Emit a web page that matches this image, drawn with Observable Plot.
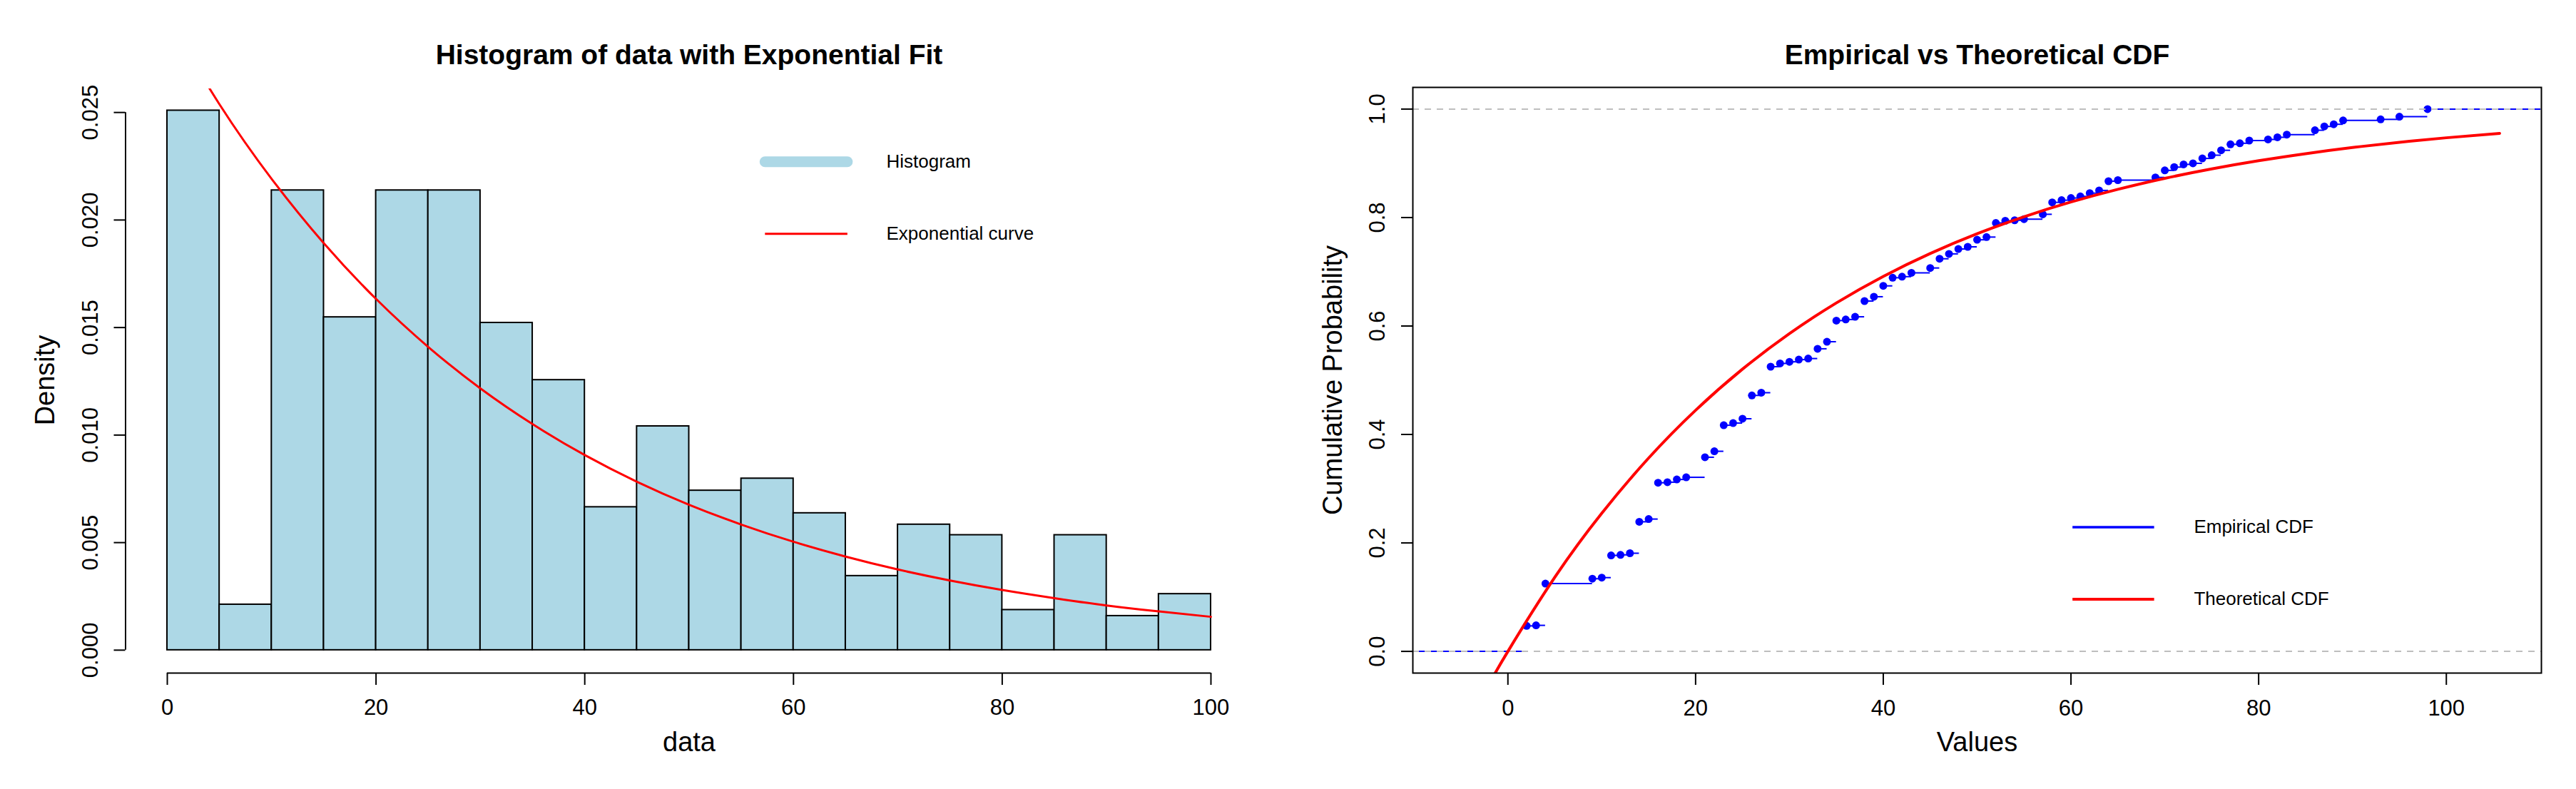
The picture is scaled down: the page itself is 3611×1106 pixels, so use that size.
<!DOCTYPE html>
<html><head><meta charset="utf-8">
<script src="https://cdn.jsdelivr.net/npm/d3@7"></script>
<script src="https://cdn.jsdelivr.net/npm/@observablehq/plot@0.6"></script>
<style>
body{margin:0;background:#fff;}
#row{display:flex;width:3611px;height:1106px;}
#row svg{display:block;flex:none;}
</style>
</head><body><div id="row"></div>
<script>
// ---------- Data: histogram ----------
const binEdges = [0,5,10,15,20,25,30,35,40,45,50,55,60,65,70,75,80,85,90,95,100];
const binDensity = [0.02509,0.00212,0.02138,0.01548,0.02138,0.02138,0.01522,0.01256,0.00665,0.01041,
                    0.00742,0.00798,0.00637,0.00345,0.00584,0.00535,0.00187,0.00535,0.00159,0.00261];
// exponential density curve
const pdfX = [0,5,10,15,20,25,30,35,40,45,50,55,60,65,70,75,80,85,90,95,100];
const pdfY = [0.02940,0.02538,0.02191,0.01892,0.01633,0.01410,0.01217,0.01051,0.00907,0.00783,
              0.00676,0.00584,0.00504,0.00435,0.00375,0.00324,0.00280,0.00242,0.00208,0.00180,0.00155];
const histXTicks = [0,20,40,60,80,100];
const histYTicks = [0,0.005,0.010,0.015,0.020,0.025];

// ---------- Data: ECDF ----------
const ecdfX = [2,3,4,9,10,11,12,13,14,15,16,17,18,19,21,22,23,24,25,26,27,28,29,30,31,32,33,34,35,36,37,
               38,39,40,41,42,43,45,46,47,48,49,50,51,52,53,54,55,57,58,59,60,61,62,63,64,65,69,70,71,72,
               73,74,75,76,77,78,79,81,82,83,86,87,88,89,93,95,98];
const ecdfY = [0.047,0.048,0.125,0.134,0.136,0.177,0.178,0.181,0.239,0.244,0.311,0.312,0.317,0.321,0.358,0.369,
               0.417,0.421,0.429,0.472,0.477,0.525,0.531,0.534,0.538,0.540,0.558,0.571,0.610,0.612,0.617,
               0.646,0.654,0.674,0.689,0.691,0.698,0.707,0.724,0.733,0.742,0.746,0.759,0.764,0.790,0.794,
               0.795,0.797,0.806,0.828,0.832,0.836,0.839,0.845,0.850,0.867,0.869,0.874,0.887,0.893,0.898,
               0.900,0.909,0.915,0.924,0.935,0.937,0.942,0.944,0.948,0.953,0.961,0.968,0.972,0.979,0.981,
               0.986,1.000];
// theoretical CDF curve
const cdfX = [-5.68,-2.5,0,5,10,15,20,25,30,35,40,45,50,55,60,65,70,75,80,85,90,95,100,105.68];
const cdfY = [-0.182,-0.076,0,0.1367,0.2547,0.3566,0.4446,0.5205,0.5860,0.6426,0.6915,0.7337,0.7701,
              0.8015,0.8286,0.8520,0.8723,0.8897,0.9048,0.9178,0.9291,0.9388,0.9471,0.9553];
const cdfXTicks = [0,20,40,60,80,100];
const cdfYTicks = [0,0.2,0.4,0.6,0.8,1.0];

// ---------- derived tables ----------
const bins = binDensity.map((d,i) => ({x1: binEdges[i], x2: binEdges[i+1], density: d}));
const pdf = pdfX.map((x,i) => ({x, y: pdfY[i]}));
const cdf = cdfX.map((x,i) => ({x, y: cdfY[i]}));
const ecdf = ecdfX.map((x,i) => ({x, y: ecdfY[i]}));

const FONT = "'Liberation Sans', Arial, Helvetica, sans-serif";
const style = {fontFamily: FONT, fontSize: "31px", background: "white", color: "black"};

// ---------- left: histogram ----------
const hxDom = [-4, 104];
const hyDom = [-0.001, 0.0261];
const left = Plot.plot({
  width: 1805, height: 1106,
  marginLeft: 175.5, marginRight: 49.5, marginTop: 124, marginBottom: 165,
  x: {domain: hxDom, axis: null},
  y: {domain: hyDom, axis: null},
  style,
  marks: [
    Plot.rect(bins, {x1: "x1", x2: "x2", y1: 0, y2: "density", fill: "#ADD8E6", stroke: "#000", strokeWidth: 2}),
    Plot.line(pdf, {x: "x", y: "y", stroke: "red", strokeWidth: 3, curve: "natural", clip: true}),
    // y axis
    Plot.ruleX([hxDom[0]], {y1: histYTicks[0], y2: histYTicks[histYTicks.length-1], strokeWidth: 2}),
    Plot.axisY({ticks: histYTicks, tickSize: 16, tickFormat: () => "", strokeWidth: 2, anchor: "left", label: null}),
    Plot.text(histYTicks, {y: d => d, frameAnchor: "left", textAnchor: "middle", dx: -49, rotate: -90, text: d3.format(".3f"), fontSize: 31}),
    // x axis
    Plot.ruleY([hyDom[0]], {x1: histXTicks[0], x2: histXTicks[histXTicks.length-1], dy: 2, strokeWidth: 2}),
    Plot.axisX({ticks: histXTicks, tickSize: 17, tickPadding: 19, dy: 2, strokeWidth: 2, fontSize: 31, anchor: "bottom", label: null}),
    // titles
    Plot.text(["Histogram of data with Exponential Fit"], {frameAnchor: "top", dy: -62, fontWeight: "bold", fontSize: 39}),
    Plot.text(["data"], {frameAnchor: "bottom", dy: 111, fontSize: 38}),
    Plot.text(["Density"], {frameAnchor: "left", textAnchor: "middle", dx: -112, rotate: -90, fontSize: 38}),
    // legend
    Plot.ruleY([0.02271], {x1: 57.3, x2: 65.2, stroke: "#ADD8E6", strokeWidth: 15, strokeLinecap: "round"}),
    Plot.ruleY([0.01936], {x1: 57.3, x2: 65.2, stroke: "red", strokeWidth: 3}),
    Plot.text(["Histogram"], {x: 68.9, y: 0.02271, textAnchor: "start", fontSize: 26}),
    Plot.text(["Exponential curve"], {x: 68.9, y: 0.01936, textAnchor: "start", fontSize: 26})
  ]
});

// ---------- right: ECDF vs theoretical CDF ----------
const cxDom = [-10.13, 110.13];
const cyDom = [-0.04, 1.04];
const segs = [{x1: cxDom[0], x2: ecdfX[0], y: 0}].concat(
  ecdf.map((d,i) => ({x1: d.x, x2: i < ecdf.length-1 ? ecdf[i+1].x : cxDom[1], y: d.y})));
const right = Plot.plot({
  width: 1806, height: 1106,
  marginLeft: 175, marginRight: 49, marginTop: 122, marginBottom: 163,
  x: {domain: cxDom, axis: null},
  y: {domain: cyDom, axis: null},
  style,
  marks: [
    Plot.ruleY(segs, {y: "y", x1: "x1", x2: "x2", stroke: "blue", strokeWidth: 2, clip: true}),
    Plot.dot(ecdf, {x: "x", y: "y", r: 5.5, fill: "blue", stroke: "none"}),
    Plot.ruleY([0, 1], {stroke: "#BEBEBE", strokeWidth: 2, strokeDasharray: "9,8"}),
    Plot.line(cdf, {x: "x", y: "y", stroke: "red", strokeWidth: 4, curve: "natural", clip: true}),
    Plot.frame({stroke: "#000", strokeWidth: 2}),
    Plot.axisY({ticks: cdfYTicks, tickSize: 16, tickFormat: () => "", strokeWidth: 2, anchor: "left", label: null}),
    Plot.text(cdfYTicks, {y: d => d, frameAnchor: "left", textAnchor: "middle", dx: -49, rotate: -90, text: d3.format(".1f"), fontSize: 31}),
    Plot.axisX({ticks: cdfXTicks, tickSize: 17, tickPadding: 20, strokeWidth: 2, fontSize: 31, anchor: "bottom", label: null}),
    Plot.text(["Empirical vs Theoretical CDF"], {frameAnchor: "top", dy: -60, fontWeight: "bold", fontSize: 39}),
    Plot.text(["Values"], {frameAnchor: "bottom", dy: 109, fontSize: 38}),
    Plot.text(["Cumulative Probability"], {frameAnchor: "left", textAnchor: "middle", dx: -112, rotate: -90, fontSize: 38}),
    // legend
    Plot.ruleY([0.229], {x1: 60.2, x2: 68.9, stroke: "blue", strokeWidth: 3.5}),
    Plot.ruleY([0.096], {x1: 60.2, x2: 68.9, stroke: "red", strokeWidth: 4}),
    Plot.text(["Empirical CDF"], {x: 73.1, y: 0.229, textAnchor: "start", fontSize: 26}),
    Plot.text(["Theoretical CDF"], {x: 73.1, y: 0.096, textAnchor: "start", fontSize: 26})
  ]
});

const row = document.getElementById("row");
row.appendChild(left);
row.appendChild(right);
</script>
</body></html>
